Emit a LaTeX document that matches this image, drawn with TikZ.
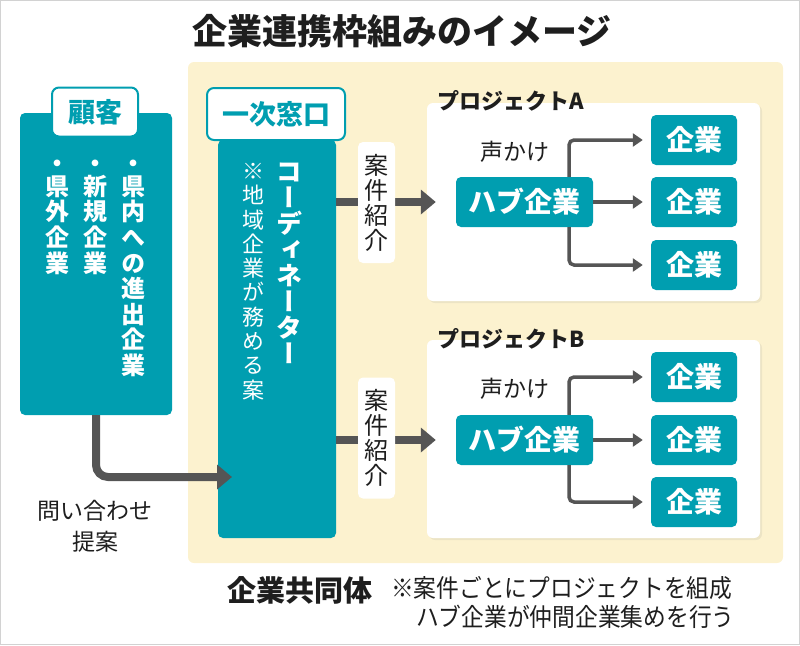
\documentclass[tikz,border=0pt]{standalone}
\usepackage{fontspec}
\setmainfont{Noto Sans CJK JP}
\newfontfamily\vj[RawFeature=+vert]{Noto Sans CJK JP}
\usetikzlibrary{arrows.meta,shadows}
\definecolor{tealc}{RGB}{0,158,176}
\definecolor{cream}{RGB}{252,242,207}
\definecolor{arr}{RGB}{85,85,85}
\definecolor{txt}{RGB}{30,30,30}
\tikzset{
  tealbox/.style={fill=tealc, draw=none, rounded corners=5pt, inner sep=0pt},
  tagbox/.style={fill=white, draw=tealc, line width=2pt, rounded corners=7pt, text=tealc, inner sep=0pt,
    font=\bfseries\fontsize{27}{27}\selectfont},
  projbox/.style={fill=white, draw=none, rounded corners=6pt,
    drop shadow={opacity=0.12, shadow xshift=2pt, shadow yshift=-2pt}},
  labbox/.style={fill=white, draw=none, rounded corners=5pt, inner sep=0pt, align=center, text=txt,
    font=\vj\fontsize{24}{25}\selectfont},
  hubbox/.style={tealbox, text=white, font=\bfseries\fontsize{28}{28}\selectfont},
  vcol/.style={text=white, align=center, inner sep=0pt, anchor=north},
  bigarrow/.style={draw=arr, line width=8pt, -{Triangle[length=15pt,width=24pt]}},
  smallarrow/.style={draw=arr, line width=3.5pt, rounded corners=5pt, -{Triangle[length=10pt,width=13pt]}},
  plain/.style={text=txt, inner sep=0pt}
}
\begin{document}
\begin{tikzpicture}[x=1pt,y=-1pt]
\useasboundingbox (0,0) rectangle (800,645);
\draw[gray!35, line width=1pt] (0.5,0.5) rectangle (799.5,644.5);

% title
\node[plain, font=\bfseries\fontsize{35}{35}\selectfont] (title) at (402,31) {企業連携枠組みのイメージ};

% cream panel
\fill[cream, rounded corners=6pt] (188,62) rectangle (783,563);

% customer
\node[tealbox, minimum width=152pt, minimum height=302pt] (cust) at (96,264) {};
\node[tagbox, minimum width=86pt, minimum height=49pt] (custlab) at (95,112) {顧客};
\node[vcol, font=\vj\bfseries\fontsize{24}{25.6}\selectfont] (c1) at (133,160) {・\\[-3pt]県\\内\\へ\\の\\進\\出\\企\\業};
\node[vcol, font=\vj\bfseries\fontsize{24}{25.6}\selectfont] (c2) at (95,160) {・\\[-3pt]新\\規\\企\\業};
\node[vcol, font=\vj\bfseries\fontsize{24}{25.6}\selectfont] (c3) at (57,160) {・\\[-3pt]県\\外\\企\\業};

% coordinator
\node[tealbox, minimum width=118pt, minimum height=398pt] (coord) at (277,339) {};
\node[tagbox, minimum width=138pt, minimum height=52pt] (coordlab) at (276,114) {一次窓口};
\node[vcol, font=\vj\bfseries\fontsize{26}{26}\selectfont] (k1) at (289,163) {コ\\ー\\デ\\ィ\\ネ\\ー\\タ\\ー};
\node[vcol, font=\vj\fontsize{22}{24.3}\selectfont] (k2) at (253,163) {※\\地\\域\\企\\業\\が\\務\\め\\る\\案};

% projects
\node[projbox, minimum width=333pt, minimum height=198pt] (projA) at (593.5,202) {};
\node[projbox, minimum width=333pt, minimum height=198pt] (projB) at (593.5,439) {};
\node[plain, anchor=west, font=\bfseries\fontsize{22}{22}\selectfont] (tA) at (437,101) {プロジェクトA};
\node[plain, anchor=west, font=\bfseries\fontsize{22}{22}\selectfont] (tB) at (437,339) {プロジェクトB};
\node[plain, font=\fontsize{23}{23}\selectfont] (vA) at (515,152) {声かけ};
\node[plain, font=\fontsize{23}{23}\selectfont] (vB) at (515,389) {声かけ};

\node[hubbox, minimum width=137pt, minimum height=50pt] (hubA) at (524.5,202) {ハブ企業};
\node[hubbox, minimum width=137pt, minimum height=50pt] (hubB) at (524.5,440) {ハブ企業};
\node[hubbox, minimum width=86pt, minimum height=50pt] (a1) at (694,140) {企業};
\node[hubbox, minimum width=86pt, minimum height=50pt] (a2) at (694,202) {企業};
\node[hubbox, minimum width=86pt, minimum height=50pt] (a3) at (694,265) {企業};
\node[hubbox, minimum width=86pt, minimum height=50pt] (b1) at (694,377) {企業};
\node[hubbox, minimum width=86pt, minimum height=50pt] (b2) at (694,440) {企業};
\node[hubbox, minimum width=86pt, minimum height=50pt] (b3) at (694,502) {企業};

% hub arrows
\draw[smallarrow] ([xshift=44.5pt]hubA.north) |- ([xshift=-8pt]a1.west);
\draw[smallarrow] (hubA.east) -- ([xshift=-8pt]a2.west);
\draw[smallarrow] ([xshift=44.5pt]hubA.south) |- ([xshift=-8pt]a3.west);
\draw[smallarrow] ([xshift=44.5pt]hubB.north) |- ([xshift=-8pt]b1.west);
\draw[smallarrow] (hubB.east) -- ([xshift=-8pt]b2.west);
\draw[smallarrow] ([xshift=44.5pt]hubB.south) |- ([xshift=-8pt]b3.west);

% big arrows
\draw[bigarrow] (coord.east |- projA.west) -- ([xshift=9pt]projA.west);
\draw[bigarrow] (coord.east |- hubB.west) -- ([xshift=9pt]projB.west |- hubB.west);
\coordinate (tip) at (232,477);
\draw[bigarrow, rounded corners=12pt] (cust.south) |- (tip);

% labels on big arrows
\node[labbox, minimum width=37pt, minimum height=121pt] (lA) at (376.5,202.5) {案\\件\\紹\\介};
\node[labbox, minimum width=37pt, minimum height=121pt] (lB) at (376.5,438) {案\\件\\紹\\介};

% inquiry text
\node[plain, align=center, font=\fontsize{23}{31}\selectfont] (inq) at (95,526) {問い合わせ\\提案};

% bottom
\node[plain, font=\bfseries\fontsize{29}{29}\selectfont] (jv) at (300,590) {企業共同体};
\node[plain, anchor=west, font=\fontsize{25}{25}\selectfont] (n1) at (391,588) {\scalebox{0.91}[1]{※案件ごとにプロジェクトを組成}};
\node[plain, anchor=west, font=\fontsize{25}{25}\selectfont] (n2) at (416,617) {\scalebox{0.91}[1]{ハブ企業が仲間企業集めを行う}};
\end{tikzpicture}
\end{document}
